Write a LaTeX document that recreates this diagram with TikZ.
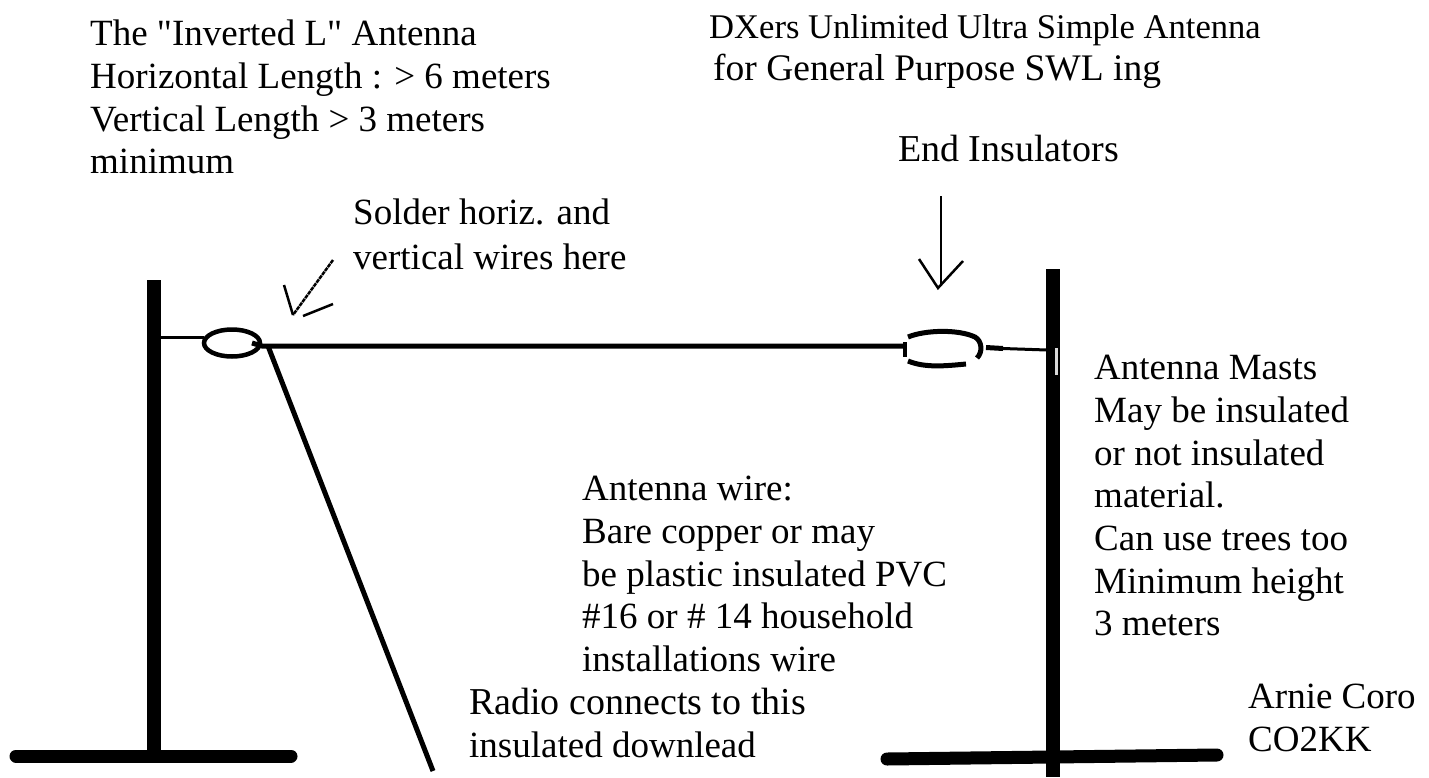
\documentclass[tikz,border=0pt]{standalone}
\usepackage{fontspec}
\usetikzlibrary{shapes.geometric}
\newfontfamily\lblfont{Liberation Serif}
\tikzset{
  lbl/.style={anchor=north west,inner sep=0pt,align=left,font=\lblfont\fontsize{37}{42.7}\selectfont},
  mast/.style={line width=14pt},
  groundbar/.style={line width=13pt,line cap=round},
  wire/.style={line width=3pt},
  thick wire/.style={line width=5pt},
  pen/.style={line width=2.5pt}
}
\begin{document}
\begin{tikzpicture}[x=1pt,y=-1pt]
\useasboundingbox (0,0) rectangle (1429,777);
% masts and ground bars
\coordinate (m1t) at (154,280); \coordinate (m1b) at (154,755);
\coordinate (g1l) at (16,756); \coordinate (g1r) at (291,756);
\coordinate (m2t) at (1053,269); \coordinate (m2b) at (1053,777);
\coordinate (g2l) at (887,759); \coordinate (g2r) at (1217,755);
\draw[mast] (m1t) -- (m1b);
\draw[groundbar] (g1l) -- (g1r);
\draw[mast] (m2t) -- (m2b);
\draw[groundbar] (g2l) -- (g2r);
% left insulator
\node[draw,ellipse,line width=4.5pt,minimum width=56pt,minimum height=27pt,inner sep=0pt] (ins1) at (232,343) {};
% right insulator
\draw[line width=4pt] (905,342) -- (905,357);
\draw[thick wire] (908,337) .. controls (925,330) and (958,329) .. (975,337) .. controls (982,341) and (983,352) .. (977,358);
\draw[thick wire] (908,361) .. controls (925,368) and (945,366) .. (966,364);
\coordinate (wj) at (252,343);
\coordinate (wk) at (262,346);
\coordinate (wa) at (904,346);
\coordinate (d0) at (268,346);
\coordinate (d1) at (433,771);
\coordinate (w1) at (160,337);
\coordinate (w1e) at (204,337);
\coordinate (w2a) at (986,347.5);
\coordinate (w2m) at (1003,348.5);
\coordinate (w2b) at (1047,350);
\draw[wire] (w1) -- (w1e);
\draw[thick wire] (wj) -- (wk) -- (wa);
\draw[thick wire] (d0) -- (d1);
\draw[wire] (w2m) -- (w2b);
\draw[thick wire] (w2a) -- (w2m);
\fill[black!15] (1055,348) rectangle (1058,375);
% arrows
\draw[pen,dash pattern=on 4pt off 0.8pt] (333,260) -- (293,315);
\draw[pen] (284,285) -- (293,315);
\draw[pen] (303,316) -- (333,304);
\draw[pen] (941,196) -- (941,286);
\draw[pen] (919,259) -- (938,288) -- (963,261);
% texts
\node[lbl] (t1) at (90,20) {The "Inverted L" Antenna\\Horizontal Length : > 6 meters\\Vertical Length > 3 meters\\minimum};
\node[lbl] (t2) at (709,14) {\fontsize{34.6}{42.7}\selectfont DXers Unlimited Ultra Simple Antenna\\\hspace*{4pt}\fontsize{37.5}{42.7}\selectfont for General Purpose SWL ing};
\node[lbl] (t3) at (898,135) {\fontsize{38}{42.7}\selectfont End Insulators};
\node[lbl] (t4) at (353,199) {Solder horiz. and\\[2pt]vertical wires here};
\node[lbl] (t5) at (1094,355) {Antenna Masts\\May be insulated\\or not insulated\\material.\\Can use trees too\\Minimum height\\3 meters};
\node[lbl] (t6) at (582,476) {Antenna wire:\\Bare copper or may\\be plastic insulated PVC\\\#16 or \# 14 household\\installations wire};
\node[lbl] (t7) at (469,688) {\fontsize{38}{42.7}\selectfont Radio connects to this\\\fontsize{37}{42.7}\selectfont insulated downlead};
\node[lbl] (t8) at (1248,684) {Arnie Coro\\CO2KK};
\end{tikzpicture}
\end{document}
